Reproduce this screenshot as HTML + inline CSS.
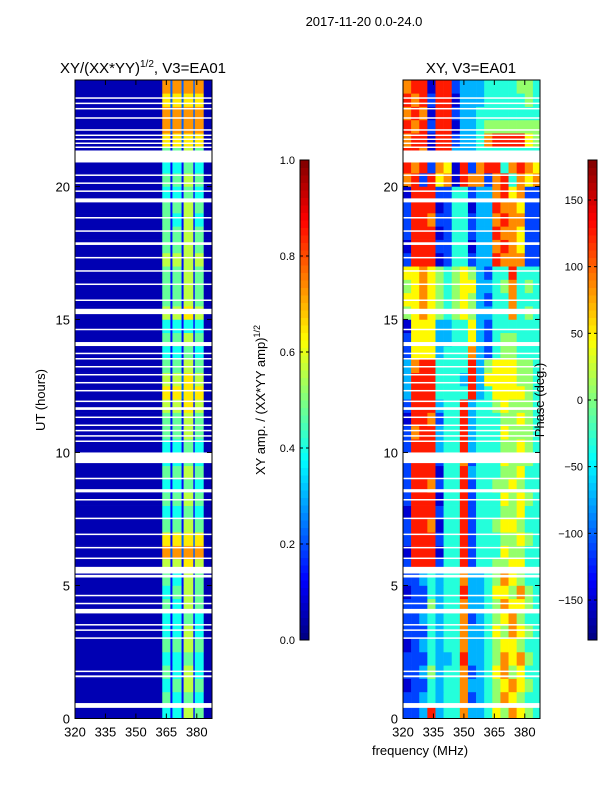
<!DOCTYPE html>
<html><head><meta charset="utf-8"><style>
body{margin:0;background:#fff;}
svg{display:block;font-family:"Liberation Sans",sans-serif;}
</style></head><body>
<svg id="chart" width="600" height="800" viewBox="0 0 600 800" xmlns="http://www.w3.org/2000/svg">
<rect width="600" height="800" fill="#fff"/>
<text x="364" y="26" font-size="13" text-anchor="middle">2017-11-20 0.0-24.0</text>
<text x="143" y="73" font-size="15" text-anchor="middle">XY/(XX*YY)<tspan dy="-6" font-size="10">1/2</tspan><tspan dy="6">, V3=EA01</tspan></text>
<text x="471" y="73" font-size="15" text-anchor="middle">XY, V3=EA01</text>
<g id="ampPanel"></g>
<g id="phasePanel"></g>
<g id="axes"></g>
<text transform="translate(45,400) rotate(-90)" font-size="13" text-anchor="middle">UT (hours)</text>
<text x="420" y="755" font-size="13" text-anchor="middle">frequency (MHz)</text>
<text transform="translate(265,400) rotate(-90)" font-size="13" text-anchor="middle">XY amp. / (XX*YY amp)<tspan dy="-5" font-size="9">1/2</tspan></text>
<text transform="translate(544,400) rotate(-90)" font-size="13" text-anchor="middle">Phase (deg.)</text>
</svg>
<script>
const yTicks=[0,5,10,15,20];
const xTicks=[320,335,350,365,380];
const ampCbTicks=[0.0,0.2,0.4,0.6,0.8,1.0];
const phaseCbTicks=[-150,-100,-50,0,50,100,150];
const ampFreqEdges=[320,363,367,368,372.5,373.5,378.3,379,383.4,388];
const ampRows=["041416150","051415140","041516150","051416140","041415140","051516150","041416140","041415140","051416150","041516150","051416150","061617160","082828280","071727270","051516150","041415140","051516150","041415140","051516150","041415140","041415140","051516150","051516150","061617160","071727270","061627260","051516150","041415140","051516150","041414140","061617160","051516150","051516150","051516150","061616160","051516150","051516150","051416140","051516150","041415140","051516150","041415140","051516150","071727270","082828280","082828280","072727270","082828280"];
const phaseFreqEdges=[320,324,328,332,336,340,344,348,352,356,360,364,368,372,376,380,384,388];
const phaseRows=["22383447334657654","22343447234576544","12243447334567654","22353447234675644","22243348334576754","12343447334566544","22243447334657654","22343447234567544","22253447334576654","12243448334665754","22343447334576544","28882448244556644","18881448244465544","28882448244455654","28871448244566544","18882448244455644","28881448244465654","28872448244556544","28881448344455644","28882447244465554","28883448344455654","27883448344465554","18872448344455654","28883448344565554","38884444834666654","38884443836666554","37884444835666554","26663444732455444","26663344632455444","16663344632444444","56765456533447454","66765456532447444","56765456633457454","66765456532448444","28881244233877722","18882244133787622","28881244233877622","28872244233787722","28881244133877622","18882244233786722","78286718772784767","87827618278847876","88718833344444444","78818823347888865","87828813345555555","78718823344444444","87828813334444454","78818823334444554"];
const flaggedStart=[0.40,1.55,1.75,3.0,3.3,3.5,3.95,4.3,4.6,5.3,5.45,6.0,6.4,6.9,7.5,8.2,8.5,9.0,9.6,10.4,10.6,10.8,11.0,11.3,11.6,11.9,12.3,12.6,12.9,13.2,13.5,13.7,14.0,14.6,15.2,15.7,16.3,16.8,17.3,17.8,18.3,18.8,19.4,19.8,20.1,20.4,20.9,21.45,21.6,21.75,21.9,22.1,22.55,22.9,23.1,23.3];
const flaggedEnd=[0.58,1.62,1.8,3.05,3.35,3.55,4.12,4.35,4.65,5.4,5.7,6.05,6.45,6.95,7.55,8.25,8.62,9.05,10.0,10.45,10.65,10.85,11.05,11.35,11.7,11.95,12.35,12.65,12.95,13.25,13.55,13.75,14.15,14.65,15.4,15.75,16.35,16.85,17.35,17.9,18.35,18.85,19.55,19.85,20.15,20.45,21.35,21.5,21.65,21.8,21.95,22.15,22.6,22.95,23.15,23.35];

const NS="http://www.w3.org/2000/svg";
const T0=80,T1=718.5;
function yScale(h){return T1-(h/24)*(T1-T0);}
function xScaleL(f){return 75+(f-320)*(212-75)/(387.5-320);}
function xScaleR(f){return 403+(f-320)*(540-403)/(387.5-320);}
function jet(v){v=Math.max(0,Math.min(1,v));
 const r=Math.max(0,Math.min(1,1.5-Math.abs(4*v-3)));
 const g=Math.max(0,Math.min(1,1.5-Math.abs(4*v-2)));
 const b=Math.max(0,Math.min(1,1.5-Math.abs(4*v-1)));
 return `rgb(${Math.round(r*255)},${Math.round(g*255)},${Math.round(b*255)})`;}
function mk(tag,attrs,parent){const e=document.createElementNS(NS,tag);for(const k in attrs)e.setAttribute(k,attrs[k]);parent.appendChild(e);return e;}

function drawHeat(g,rows,edges,xs,valFn,clipName){
 const rh=24/rows.length;
 rows.forEach((row,i)=>{
  for(let j=0;j<edges.length-1;j++){
   const x0=xs(edges[j]),x1=Math.min(xs(edges[j+1]),xs(387.5));
   const r=mk('rect',{x:x0,y:yScale((i+1)*rh),width:x1-x0+0.3,height:yScale(i*rh)-yScale((i+1)*rh)+0.3,fill:jet(valFn(+row[j]))},g);
   
   
  }
 });
 flaggedStart.forEach((s,k)=>{
  const r=mk('rect',{x:xs(320),y:yScale(flaggedEnd[k]),width:xs(387.5)-xs(320),height:Math.max(1.5,yScale(s)-yScale(flaggedEnd[k])),fill:'#fff'},g);
  
  
 });
}
drawHeat(document.getElementById('ampPanel'),ampRows,ampFreqEdges,xScaleL,d=>0.05+d*0.085,'amp');
drawHeat(document.getElementById('phasePanel'),phaseRows,phaseFreqEdges,xScaleR,d=>d*0.11-0.03,'phase');

const ax=document.getElementById('axes');
function frame(xs){
 const x0=xs(320),x1=xs(387.5);
 const f=mk('rect',{x:x0,y:T0,width:x1-x0,height:T1-T0,fill:'none',stroke:'#000','stroke-width':1},ax);
 
 
 yTicks.forEach(t=>{const y=yScale(t);
  mk('line',{x1:x0,x2:x0+5,y1:y,y2:y,stroke:'#000'},ax);
  mk('line',{x1:x1,x2:x1-5,y1:y,y2:y,stroke:'#000'},ax);
  const tx=mk('text',{x:x0-5,y:y+5,'font-size':13,'text-anchor':'end'},ax);tx.textContent=t;
  
  
 });
 xTicks.forEach(t=>{const x=xs(t);
  mk('line',{x1:x,x2:x,y1:T1,y2:T1-5,stroke:'#000'},ax);
  mk('line',{x1:x,x2:x,y1:T0,y2:T0+5,stroke:'#000'},ax);
  const tx=mk('text',{x:x,y:T1+18,'font-size':13,'text-anchor':'middle'},ax);tx.textContent=t;
  
  
 });
}
frame(xScaleL);frame(xScaleR);

function colorbar(x,ticks,lo,hi,name){
 const cb0=640,cb1=160,w=9,n=64;
 for(let i=0;i<n;i++){
  const r=mk('rect',{x:x,y:cb0-(i+1)*(cb0-cb1)/n,width:w,height:(cb0-cb1)/n+0.5,fill:jet((i+0.5)/n)},ax);
  
  
 }
 mk('rect',{x:x,y:cb1,width:w,height:cb0-cb1,fill:'none',stroke:'#000'},ax);
 ticks.forEach(t=>{const y=cb0-(t-lo)/(hi-lo)*(cb0-cb1);
  mk('line',{x1:x,x2:x+3,y1:y,y2:y,stroke:'#000'},ax);
  mk('line',{x1:x+w,x2:x+w-3,y1:y,y2:y,stroke:'#000'},ax);
  const tx=mk('text',{x:x-5,y:y+4,'font-size':11,'text-anchor':'end'},ax);
  tx.textContent=(lo===0?t.toFixed(1):String(t).replace('-','\u2212'));
  
  
 });
}
colorbar(300,ampCbTicks,0,1,'amp-colorbar');
colorbar(588,phaseCbTicks,-180,180,'phase-colorbar');
</script>
</body></html>
